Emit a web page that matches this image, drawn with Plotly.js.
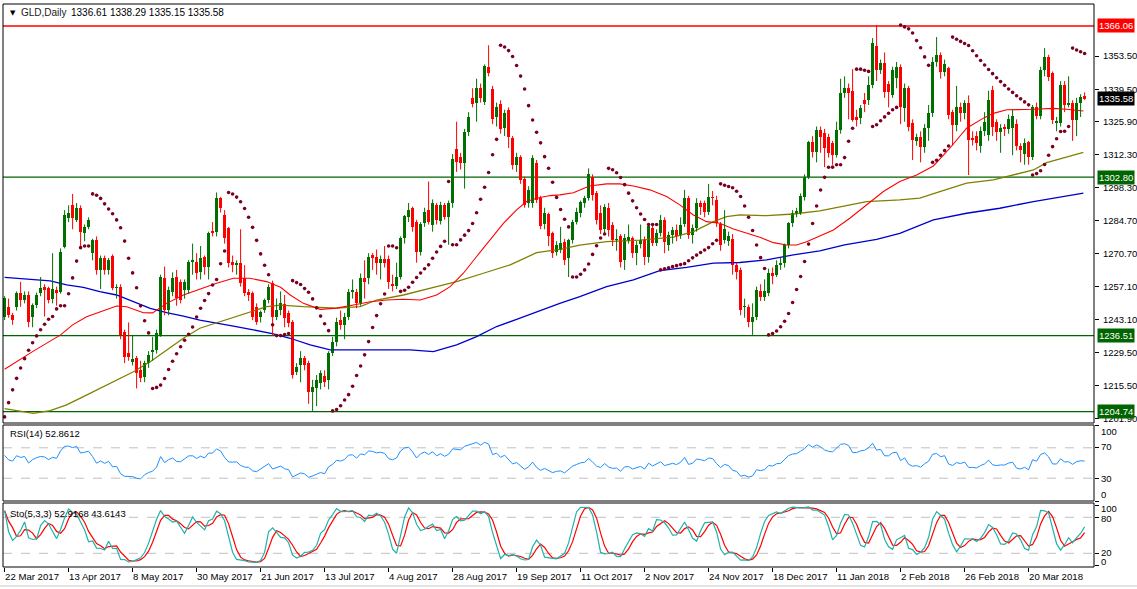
<!DOCTYPE html>
<html><head><meta charset="utf-8">
<script src="https://cdn.plot.ly/plotly-3.0.1.min.js"></script>
<style>html,body{margin:0;padding:0;background:#fff;}#chart{width:1137px;height:589px;}</style>
</head><body><div id="chart"></div>
<script>
// ---- daily OHLC (bar index 0 = 22 Mar 2017) ----
const opens=[
1244.4,1248.6,1245.1,1248.6,1254.2,1251.4,1253.5,1244.4,1249.3,1254.2,
1257,1256.3,1252,1255.5,1254.9,1273.7,1285.6,1291.2,1284.9,1289.8,
1279.3,1282.1,1271,1276.5,1264,1268.8,1264,1269.8,1256.3,1257,
1238.2,1229.1,1225.6,1227,1222.1,1219.3,1224.9,1229.8,1230.5,1236.8,
1260.5,1247.2,1254.9,1261.2,1259.1,1255.6,1255.6,1267.4,1267.4,1263.3,
1269.3,1265.4,1280.3,1280,1293.9,1287,1281.4,1267.4,1266.1,1266.7,
1260.5,1254.9,1254.2,1248.6,1244.4,1247.2,1251.4,1258.4,1244.4,1247.2,
1249.7,1245.9,1242.4,1221.4,1224.2,1227,1224.9,1213.1,1214.5,1216.6,
1219.4,1218,1229.1,1234,1243.1,1241,1244.5,1254.9,1254.9,1250,
1260.5,1260.5,1270.3,1269.6,1266.8,1268.4,1268.4,1258.1,1257.3,1260.9,
1277.2,1286.3,1289.8,1284.2,1271.7,1283.5,1289.1,1282.8,1291.2,1284.6,
1291.2,1286.3,1292.2,1314.6,1311.4,1308.6,1321.9,1335.8,1333.7,1340,
1334.4,1349.1,1339.6,1327.9,1333.4,1323.3,1330.7,1319.1,1307.9,1311.1,
1302.1,1291.9,1291.9,1308.6,1294,1283.1,1287.5,1279.3,1271.7,1272.5,
1275.8,1268.9,1276.5,1284.2,1287.7,1291.9,1294,1303,1296,1287.7,
1281,1289.8,1282.8,1276.5,1278,1268.2,1276.5,1277.2,1271,1275,
1276.5,1269.6,1281.4,1275.2,1279.3,1285,1274.4,1278.6,1280.7,1278.6,
1283,1294,1278.6,1281.4,1291.9,1291.9,1288.4,1294.6,1293.2,1283,
1276.7,1276,1277,1266,1264,1248.6,1248.6,1242.4,1244.4,1255,
1252.8,1254.3,1262.6,1262,1266,1266.7,1274.4,1283.6,1287.7,1288,
1294.5,1303,1317.7,1313.5,1322.6,1321.2,1319.8,1317,1312,1322.6,
1337.9,1340,1339,1328,1327.5,1335,1335,1341.4,1357.7,1347.6,
1350.5,1341.9,1337.2,1344.3,1349.1,1331.6,1340,1325.5,1317.9,1319.8,
1315.6,1323.3,1329.7,1351.1,1353.9,1347,1348.5,1330,1324.6,1332.3,
1329.7,1333.8,1319,1320,1316,1322.3,1320.4,1339.3,1326,1321.9,
1323.6,1323,1323.5,1325,1316,1312.5,1317.5,1311.2,1332,1328.6,
1347.6,1353,1346.4,1325.5,1325.5,1341.4,1333,1333.8,1326.7,1333.8,1336.61];
const highs=[
1253,1252,1246,1255,1259,1255,1255,1250,1254.5,1261,
1258,1257,1271,1257,1273,1289,1291,1295.8,1292,1291,
1283,1286,1277,1278,1270,1270,1269,1270.5,1258,1258,
1239,1242,1236.8,1228,1226,1226,1230,1236,1239,1262,
1265.4,1257,1263,1264,1260,1260,1268.1,1275,1271,1274,
1270,1280,1284,1296.4,1294.5,1289,1282,1270,1268,1281,
1266,1256,1255,1250,1247,1252,1258,1259.5,1252,1255,
1253.5,1247,1243,1225,1230,1228,1226,1218,1220,1222,
1222,1230,1236,1244,1247,1246,1256,1260,1256,1262.5,
1268,1271,1271,1272.5,1270,1274,1270,1262,1267,1278,
1287,1292,1290.5,1285,1284,1290,1301,1293.5,1292,1292.5,
1292,1293,1312.5,1326,1313,1323,1330,1340,1344,1342,
1350,1358,1341,1334,1335,1331,1332,1320,1313,1312,
1303,1299,1312,1310,1295,1290,1288,1280,1276,1282,
1277,1277,1285,1290,1293,1295,1306.5,1304,1297,1291,
1291.5,1292,1284,1281,1279,1279,1283,1278,1276,1283,
1278,1283,1283,1281,1287,1286,1280,1282,1283,1286,
1297.5,1295,1283,1294,1293,1293,1300,1297,1295,1284,
1289,1280,1279,1267,1265,1252,1249.5,1250,1257,1258,
1260,1264.5,1265,1268,1269,1275,1284,1289,1290,1296,
1304,1318,1320,1324,1324,1323,1321,1318,1326,1344,
1345,1342,1348,1331,1333,1338,1345,1361,1366.5,1352,
1355,1343,1349,1351,1350,1342,1341,1327,1321,1322,
1325,1333,1353,1361.4,1355,1352,1349,1331,1341,1334,
1335,1337,1322,1322,1324,1330,1339,1341,1327,1325,
1325,1329,1331,1327,1317,1319,1318,1333,1334,1349,
1356.8,1354,1347,1328,1343,1343,1345,1335,1336,1337.5,1338.29];
const lows=[
1243,1244,1241,1247,1248.6,1250,1240,1240,1248,1253,
1244.5,1250,1250,1249,1254,1273,1284,1281,1284,1274,
1276,1281,1268,1262,1256,1262,1262,1255.5,1252,1235,
1225,1226,1224,1214.4,1217,1217,1223,1226,1229,1236,
1245,1245,1253,1249,1250,1252,1254,1262,1260,1260,
1262,1260,1278,1278,1288,1275,1265,1263,1262,1257,
1253,1251,1243,1241,1242,1246,1250,1236.5,1243,1245,
1240,1240,1218.5,1220,1217,1222,1208,1205,1207,1214,
1215,1214,1228,1232,1239,1235,1243,1252,1248,1249,
1252,1258,1264,1262,1260,1265,1256,1255,1256,1260,
1275,1284,1280,1267,1270,1282,1283,1280,1283,1283,
1285,1274.5,1290,1305,1306,1298,1320,1332,1326,1334,
1333,1345,1325,1324,1321,1320,1315,1306,1305,1300,
1290,1290,1290,1292,1281,1281,1274,1269,1270,1271,
1266,1261,1275,1283,1286,1290,1293,1293,1283,1279,
1279,1278,1274,1272,1265,1264,1275,1269,1266,1273,
1266,1267,1274,1274,1278,1271,1272,1275,1276,1277,
1282,1277,1275,1280,1287,1286,1287,1291,1282,1272,
1275,1274,1262,1260,1245,1244,1240,1236.8,1243,1251,
1251,1253,1258,1261,1264,1265,1273,1282,1286,1287,
1293,1302,1311,1309,1313,1307,1311,1308,1311,1321,
1336,1327,1326,1324,1325,1330,1333,1340,1343,1346,
1336,1332,1336,1340,1325,1326,1322,1310,1316,1309,
1313,1318,1328,1349,1344,1345,1327,1316,1322,1326,
1327,1303.7,1316,1314,1313,1320,1318,1320,1318,1313,
1320,1321,1312,1314,1309,1308,1308,1310,1327,1327,
1345,1343,1325,1322,1324,1330,1332,1318,1320,1328,1335.15];
const closes=[
1252.1,1245.1,1243,1254.2,1251.4,1253.5,1242.3,1249.3,1253.5,1256.3,
1255.6,1251.4,1256,1254.5,1271.6,1287,1287.7,1285.6,1289.8,1280,
1282.1,1284.9,1276.5,1264,1268.8,1264,1268.1,1256.3,1257,1236.8,
1227.7,1227.7,1226.6,1220.7,1218.6,1224.9,1228.4,1230.5,1237.5,1261.2,
1247.2,1255.6,1260.5,1252.1,1251.4,1259.1,1267.4,1268.1,1262.6,1268.8,
1265.4,1279.3,1279.3,1293.9,1290,1277.2,1266.7,1266.1,1266.7,1258.4,
1254.2,1253.5,1244.4,1242.3,1246.5,1251.4,1257,1244.4,1247.2,1250,
1243.8,1241.7,1220,1223.5,1227,1224.2,1213.1,1215.2,1218,1220.7,
1217.3,1229.1,1234,1242.4,1241,1244.5,1254.9,1255.6,1250,1260.5,
1259.1,1269.6,1268.9,1266.8,1268.4,1266.8,1259.1,1257.3,1260.9,1277.2,
1286.6,1289.1,1282.1,1271.7,1283.1,1288.4,1284.2,1292.2,1284.9,1291.2,
1286.3,1291.9,1310.3,1309.3,1308.6,1321.9,1328,1333.4,1340,1335.8,
1349.3,1346.5,1327,1332,1322.8,1329.8,1319.8,1307.9,1311.4,1301.6,
1291.2,1297.5,1310.7,1293.3,1282.4,1287.7,1278,1271,1274.4,1275.2,
1268.2,1276.5,1284.2,1288.4,1292.6,1294,1304.2,1295.4,1284.9,1280.7,
1290.5,1280.7,1276.5,1277.1,1267.5,1277.2,1277.9,1271,1274.4,1276.5,
1269.6,1282.3,1275.2,1279.3,1285,1275.8,1278.6,1280.7,1278,1282.8,
1294,1278.6,1281.4,1292,1290.5,1288.4,1294.6,1293.9,1283.5,1274.5,
1281,1278,1266,1263,1247.2,1248.8,1242.4,1244.4,1255.6,1252.8,
1255,1262.6,1261.5,1266,1266.7,1274.4,1283.6,1287.7,1288.5,1295,
1303,1317.5,1313.5,1322.6,1319.8,1314.9,1312.8,1312,1322.6,1337.9,
1340.3,1337.9,1326.8,1326.8,1331.6,1333.5,1341.4,1358.9,1347.6,1350.5,
1338.4,1338.4,1347.6,1349.1,1332.3,1340,1323.8,1318.4,1319.8,1315.6,
1323.3,1329.7,1351.1,1353.9,1346.8,1350,1328.8,1324.6,1332.3,1329.7,
1333.8,1318.4,1318.4,1317.2,1322.3,1326,1335,1323.8,1321.9,1323.3,
1323,1327,1328.5,1316,1314,1317,1311.2,1332,1328.6,1347.6,
1353,1344.7,1326.7,1326.5,1341.4,1333,1333.8,1326.7,1334,1336.3,1335.58];

// ---- moving averages: [bar index, value] ----
const maRed=[[0,1222.4],[7,1229.8],[14,1236.8],[17,1241],[20.5,1244.4],[24,1246.5],[28,1248.9],[30.5,1248.6],[34.7,1246.1],[37,1246],[40.5,1250],[44.7,1253.5],[48.8,1256],[53,1258.4],[57.2,1260.5],[61.3,1260.5],[65.5,1259.1],[69,1256.7],[71.4,1253.5],[74.7,1250],[78.9,1247.5],[83,1248],[87.2,1249.3],[91.4,1250.7],[95.5,1251.4],[99.7,1251.7],[103.9,1251.4],[108,1253.5],[111.4,1257],[114.7,1262.6],[118,1269.6],[121.4,1276.5],[124.7,1283.5],[128,1289.1],[130.5,1292.6],[133,1294],[136.4,1295.1],[138.8,1295.4],[142.2,1296.3],[146.2,1299.1],[150.5,1300],[153.8,1300],[157.2,1299.1],[161.3,1297.5],[165.5,1294.7],[168.8,1291.2],[172.2,1287],[175.5,1284.2],[178.8,1283.5],[182.2,1281.1],[185.5,1279.3],[188.8,1277.7],[192.2,1275.4],[195.5,1274.4],[198,1274.4],[200.5,1275.8],[202.8,1277.5],[207.2,1280.7],[211.3,1285.6],[215.5,1291.2],[219.7,1296.8],[223.8,1301],[228,1303.7],[232.2,1307.5],[236.3,1314.9],[240.5,1323.3],[244.7,1327.5],[247.2,1329.5],[250.5,1331],[257.2,1331.2],[262.2,1331.6],[265.5,1331.2],[269.7,1330.5]];
const maOlive=[[0,1206],[7.2,1204],[11.4,1205.1],[15.5,1207.5],[19.7,1211],[23.8,1214.4],[28,1217.9],[32.2,1221.4],[36.4,1225.6],[40.5,1230.5],[44.7,1235.4],[48.8,1239.6],[53,1241.9],[57.2,1244.2],[61.3,1246.5],[65.5,1248.6],[69,1249.3],[74.7,1248.6],[83,1248],[88.9,1248.6],[93,1251.4],[99.7,1253.5],[108,1257],[113,1259.1],[119.7,1262.6],[126.4,1266.1],[133,1271.2],[138.8,1272.6],[143.8,1274.4],[150.5,1275.8],[158.8,1276.5],[167.2,1277.7],[172.2,1280],[177.2,1284.2],[180.5,1286.3],[183.8,1287],[190.5,1286.7],[197.2,1287.4],[203.8,1288.7],[207.2,1289.8],[215.5,1292.6],[223.8,1293.3],[228.8,1294],[233.8,1296.8],[240.5,1300.3],[247.2,1301.7],[252.2,1303.7],[257.2,1305.8],[260.5,1308.9],[265.5,1311.4],[269.7,1313.2]];
const maBlue=[[0,1260.9],[7.2,1260.1],[11.4,1259.4],[15.5,1257.7],[19.7,1256.7],[23.8,1254.9],[28,1253.5],[32.2,1250.7],[36.4,1247.9],[40.5,1246.1],[44.7,1244.7],[48.8,1243],[53,1241.9],[57.2,1240.5],[62.2,1238.9],[67.2,1237.2],[71.4,1235.4],[76.4,1232.6],[81.4,1230.5],[91.4,1230.5],[101.4,1230.5],[107.2,1229.8],[113,1232.6],[118,1236.1],[123,1240.3],[128,1243.3],[133.8,1247],[138.8,1250],[143.8,1252.8],[150.5,1257],[157.2,1259.8],[163.8,1263.7],[170.5,1265.1],[177.2,1266.8],[183.8,1267.1],[190.5,1268.2],[197.2,1270.3],[203.8,1272],[210,1274.5],[218,1276.8],[223.8,1279.3],[232.2,1284.9],[240.5,1287.7],[248.8,1289.8],[257.2,1292.6],[265.5,1295],[269.7,1296.1]];

// ---- axis labels ----
const tickIdx=[0,16,32,48,64,80,96,112,128,144,160,176,192,208,224,240,256];
const tickText=['22 Mar 2017','13 Apr 2017','8 May 2017','30 May 2017','21 Jun 2017','13 Jul 2017','4 Aug 2017','28 Aug 2017','19 Sep 2017','11 Oct 2017','2 Nov 2017','24 Nov 2017','18 Dec 2017','11 Jan 2018','2 Feb 2018','26 Feb 2018','20 Mar 2018'];
const priceTicks=[1353.5,1339.5,1325.9,1312.3,1298.3,1284.7,1270.7,1257.1,1243.1,1229.5,1215.5,1201.9];
const levelPrices=[1366.06,1302.80,1236.51,1204.74];
const levelColors=['#ff0000','#006400','#006400','#006400'];
const lastPrice=1335.58;
const rsiLevels=[70,30], stoLevels=[80,20];
const rsiLabels=['100','70','30','0'];
const stoLabels=['100','80','20','0'];

// ---- derived indicators (computed from the OHLC above) ----
const N=closes.length;
const idx=Array.from({length:N},(_,i)=>i);
function psar(H,L,step,maxAf,st){
  const out=new Array(N); let up=st.up,s=st.sar,ep=st.ep,af=st.af; out[0]=s;
  for(let i=1;i<N;i++){
    let v=s+af*(ep-s);
    if(up){ v=Math.min(v,L[i-1],i>1?L[i-2]:L[i-1]);
      if(L[i]<v){up=false;v=ep;ep=L[i];af=step;}
      else if(H[i]>ep){ep=H[i];af=Math.min(af+step,maxAf);} }
    else { v=Math.max(v,H[i-1],i>1?H[i-2]:H[i-1]);
      if(H[i]>v){up=true;v=ep;ep=H[i];af=step;}
      else if(L[i]<ep){ep=L[i];af=Math.min(af+step,maxAf);} }
    s=v; out[i]=v;
  }
  return out;
}
const sar=psar(highs,lows,0.02,0.2,{up:true,sar:1202.5,ep:1262,af:0.1});
function rsi(C,p){
  const out=new Array(N); let g=3.0,l=2.0; out[0]=100-100/(1+g/l);
  for(let i=1;i<N;i++){const ch=C[i]-C[i-1];
    g=(g*(p-1)+Math.max(ch,0))/p; l=(l*(p-1)+Math.max(-ch,0))/p;
    out[i]=l===0?100:100-100/(1+g/l);}
  return out;
}
const rsiVals=rsi(closes,14);
function stoch(H,L,C,kp,sl,dp){
  const num=[],den=[],K=[],D=[];
  for(let i=0;i<N;i++){let hh=-1e9,ll=1e9;
    for(let j=Math.max(0,i-kp+1);j<=i;j++){hh=Math.max(hh,H[j]);ll=Math.min(ll,L[j]);}
    num.push(C[i]-ll); den.push(hh-ll);
    let sn=0,sd=0; for(let j=Math.max(0,i-sl+1);j<=i;j++){sn+=num[j];sd+=den[j];}
    K.push(sd===0?50:100*sn/sd);
    let sk=0,c=0; for(let j=Math.max(0,i-dp+1);j<=i;j++){sk+=K[j];c++;} D.push(sk/c);}
  return {K,D};
}
const sto=stoch(highs,lows,closes,5,3,3);

// ---- traces ----
const UP='#007000', DN='#ff0000';
const wUp={x:[],y:[]}, wDn={x:[],y:[]};
const bodyBase=[],bodyH=[],bodyCol=[];
for(let i=0;i<N;i++){
  const up=closes[i]>=opens[i]; const w=up?wUp:wDn;
  w.x.push(i,i,null); w.y.push(lows[i],highs[i],null);
  bodyBase.push(Math.min(opens[i],closes[i]));
  bodyH.push(Math.max(Math.abs(closes[i]-opens[i]),0.45));
  bodyCol.push(up?UP:DN);
}
const traces=[
 {type:'scatter',mode:'lines',x:maBlue.map(p=>p[0]),y:maBlue.map(p=>p[1]),line:{color:'#0000cd',width:1.3},hoverinfo:'skip'},
 {type:'scatter',mode:'lines',x:maOlive.map(p=>p[0]),y:maOlive.map(p=>p[1]),line:{color:'#808000',width:1.3},hoverinfo:'skip'},
 {type:'scatter',mode:'lines',x:maRed.map(p=>p[0]),y:maRed.map(p=>p[1]),line:{color:'#ff0000',width:1.1},hoverinfo:'skip'},
 {type:'scatter',mode:'lines',x:wUp.x,y:wUp.y,line:{color:UP,width:1},hoverinfo:'skip'},
 {type:'scatter',mode:'lines',x:wDn.x,y:wDn.y,line:{color:DN,width:1},hoverinfo:'skip'},
 {type:'bar',x:idx,y:bodyH,base:bodyBase,width:0.75,marker:{color:bodyCol,line:{width:0}},hoverinfo:'skip'},
 {type:'scatter',mode:'markers',x:idx,y:sar,marker:{color:'#7a0020',size:3.6,line:{width:0}},hoverinfo:'skip'},
 {type:'scatter',mode:'lines',x:idx,y:rsiVals,yaxis:'y2',line:{color:'#1e90ff',width:1},hoverinfo:'skip'},
 {type:'scatter',mode:'lines',x:idx,y:sto.D,yaxis:'y3',line:{color:'#ff0000',width:1.2},hoverinfo:'skip'},
 {type:'scatter',mode:'lines',x:idx,y:sto.K,yaxis:'y3',line:{color:'#20b2aa',width:1.2},hoverinfo:'skip'}
];

const W=1137,Hh=589;
const px=v=>v/W, py=v=>1-v/Hh;
const FONT='Liberation Sans, Arial, sans-serif';
const XL=px(3), XR=px(1094);
const shapes=[];
[[4,423],[425,501],[503,567]].forEach(([t,b])=>shapes.push({type:'rect',xref:'paper',yref:'paper',x0:XL,x1:XR,y0:py(b),y1:py(t),line:{color:'#000',width:1},layer:'above'}));
levelPrices.forEach((p,k)=>shapes.push({type:'line',xref:'paper',yref:'y',x0:XL,x1:XR,y0:p,y1:p,line:{color:levelColors[k],width:1.3},layer:'below'}));
rsiLevels.forEach(v=>shapes.push({type:'line',xref:'paper',yref:'y2',x0:XL,x1:XR,y0:v,y1:v,line:{color:'#c0c0c0',width:1,dash:'dash'},layer:'below'}));
stoLevels.forEach(v=>shapes.push({type:'line',xref:'paper',yref:'y3',x0:XL,x1:XR,y0:v,y1:v,line:{color:'#c0c0c0',width:1,dash:'dash'},layer:'below'}));
shapes.push({type:'line',xref:'paper',yref:'paper',x0:0,x1:1,y0:py(586),y1:py(586),line:{color:'#e4e4e4',width:2}});

const ann=[];
const txt=(x,y,t,o={})=>ann.push(Object.assign({xref:'paper',yref:'paper',x:px(x),y:py(y),xanchor:'left',yanchor:'middle',text:t,showarrow:false,font:{family:FONT,size:9.5,color:'#000'}},o));
txt(8,13,'▼',{font:{family:'DejaVu Sans',size:7,color:'#000'}});
txt(19,13,'GLD,Daily',{font:{family:FONT,size:10,color:'#1a1a1a'}});
txt(69,13,'1336.61 1338.29 1335.15 1335.58',{font:{family:FONT,size:10,color:'#000'}});
txt(8,433,'RSI(14) 52.8612');
txt(8,513,'Sto(5,3,3) 52.9168 43.6143');
const rsiY=[431,447,478,494], stoY=[508,518,552,561];
rsiLabels.forEach((t,k)=>txt(1099,rsiY[k],t));
stoLabels.forEach((t,k)=>txt(1099,stoY[k],t));
levelPrices.forEach((p,k)=>ann.push({xref:'paper',yref:'y',x:px(1097),y:p,xanchor:'left',yanchor:'middle',text:p.toFixed(2),showarrow:false,bgcolor:levelColors[k],borderpad:1,font:{family:FONT,size:9.5,color:'#fff'}}));
ann.push({xref:'paper',yref:'y',x:px(1097),y:lastPrice,xanchor:'left',yanchor:'middle',text:lastPrice.toFixed(2),showarrow:false,bgcolor:'#000',borderpad:1,font:{family:FONT,size:9.5,color:'#fff'}});

const layout={
 width:W,height:Hh,margin:{l:0,r:0,t:0,b:0},paper_bgcolor:'#fff',plot_bgcolor:'#fff',
 showlegend:false,barmode:'overlay',bargap:0,
 xaxis:{domain:[XL,XR],range:[-0.4,272.35],showgrid:false,zeroline:false,showline:false,
   ticks:'outside',ticklen:4,tickcolor:'#000',tickvals:tickIdx,ticktext:tickText,
   ticklabelposition:'outside right',tickfont:{family:FONT,size:9.6,color:'#000'},anchor:'y3',fixedrange:true},
 yaxis:{domain:[py(423),py(4)],range:[1199.94,1375.26],side:'right',anchor:'x',showgrid:false,zeroline:false,
   ticks:'outside',ticklen:4,tickcolor:'#000',tickvals:priceTicks,tickformat:'.2f',ticklabelstandoff:2,
   tickfont:{family:FONT,size:9.5,color:'#000'},fixedrange:true},
 yaxis2:{domain:[py(501),py(425)],range:[0,100],side:'right',anchor:'x',showgrid:false,zeroline:false,
   ticks:'outside',ticklen:4,tickcolor:'#000',tickvals:[0,30,70,100],showticklabels:false,fixedrange:true},
 yaxis3:{domain:[py(567),py(503)],range:[-2.8,103.8],side:'right',anchor:'x',showgrid:false,zeroline:false,
   ticks:'outside',ticklen:4,tickcolor:'#000',tickvals:[0,20,80,100],showticklabels:false,fixedrange:true},
 shapes:shapes,annotations:ann
};
Plotly.newPlot('chart',traces,layout,{displayModeBar:false,staticPlot:true});
</script></body></html>
